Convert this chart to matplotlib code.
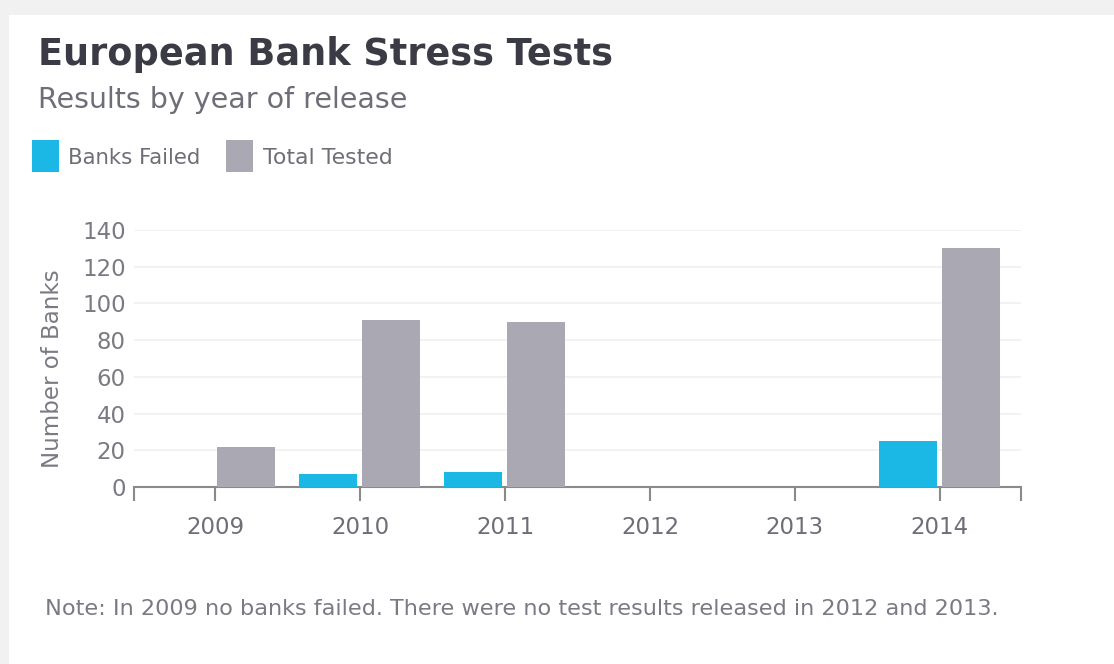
import matplotlib
matplotlib.use('Agg')
import matplotlib.pyplot as plt
from matplotlib.patches import Rectangle
import numpy as np

years = ['2009', '2010', '2011', '2012', '2013', '2014']
banks_failed = [0, 7, 8, 0, 0, 25]
total_tested = [22, 91, 90, 0, 0, 130]
y_ticks = [0, 20, 40, 60, 80, 100, 120, 140]

CYAN = '#1bb8e6'
GRAY = '#a9a8b3'
plt.rcParams['font.family'] = ['DejaVu Sans']

fig = plt.figure(figsize=(11.14, 6.64), dpi=100)
fig.patch.set_facecolor('#f1f1f1')
# card
fig.patches.append(Rectangle((9 / 1114, 0), 1, 1 - 15 / 664, transform=fig.transFigure,
                             facecolor='white', edgecolor='none', zorder=-10))

ax = fig.add_axes([134 / 1114, 1 - 487 / 664, (1021 - 134) / 1114, (487 - 230) / 664])
ax.set_facecolor('white')
x = np.arange(len(years))
w = 0.40
ax.bar(x - 0.22, banks_failed, w, color=CYAN, zorder=3)
ax.bar(x + 0.215, total_tested, w, color=GRAY, zorder=3)

ax.set_xlim(-0.56, 5.56)
ax.set_ylim(0, 140)
ax.set_yticks(y_ticks)
ax.set_xticks(x)
ax.set_xticklabels(years)
ax.set_xticks([-0.56, 5.56], minor=True)
ax.grid(axis='y', color='#f0f0f0', linewidth=1.2, zorder=0)
for s in ['top', 'right', 'left']:
    ax.spines[s].set_visible(False)
ax.spines['bottom'].set_color('#8a8a8a')
ax.spines['bottom'].set_linewidth(1.5)
ax.tick_params(axis='x', which='both', length=10, width=1.5, color='#8a8a8a',
               labelsize=16.5, labelcolor='#6e6e78', pad=11)
ax.tick_params(axis='y', length=0, labelsize=16.5, labelcolor='#7a7a84', pad=6)
fig.text(53 / 1114, 1 - 369 / 664, 'Number of Banks', fontsize=16.5, color='#7a7a84',
         rotation=90, ha='center', va='center')

fig.text(38 / 1114, 1 - 65 / 664, 'European Bank Stress Tests', fontsize=26.4,
         fontweight='bold', color='#3b3b45')
fig.text(38 / 1114, 1 - 108 / 664, 'Results by year of release', fontsize=20.5,
         color='#6e6e78')
fig.patches.append(Rectangle((32 / 1114, 1 - 172 / 664), 27 / 1114, 32 / 664,
                             transform=fig.transFigure, facecolor=CYAN, edgecolor='none'))
fig.text(68 / 1114, 1 - 164 / 664, 'Banks Failed', fontsize=15.3, color='#6e6e78')
fig.patches.append(Rectangle((226 / 1114, 1 - 172 / 664), 27 / 1114, 32 / 664,
                             transform=fig.transFigure, facecolor=GRAY, edgecolor='none'))
fig.text(263 / 1114, 1 - 164 / 664, 'Total Tested', fontsize=15.8, color='#6e6e78')

fig.text(45 / 1114, 1 - 615 / 664,
         'Note: In 2009 no banks failed. There were no test results released in 2012 and 2013.',
         fontsize=16.1, color='#7a7a84')

fig.savefig('out.png', dpi=100, facecolor=fig.get_facecolor())
